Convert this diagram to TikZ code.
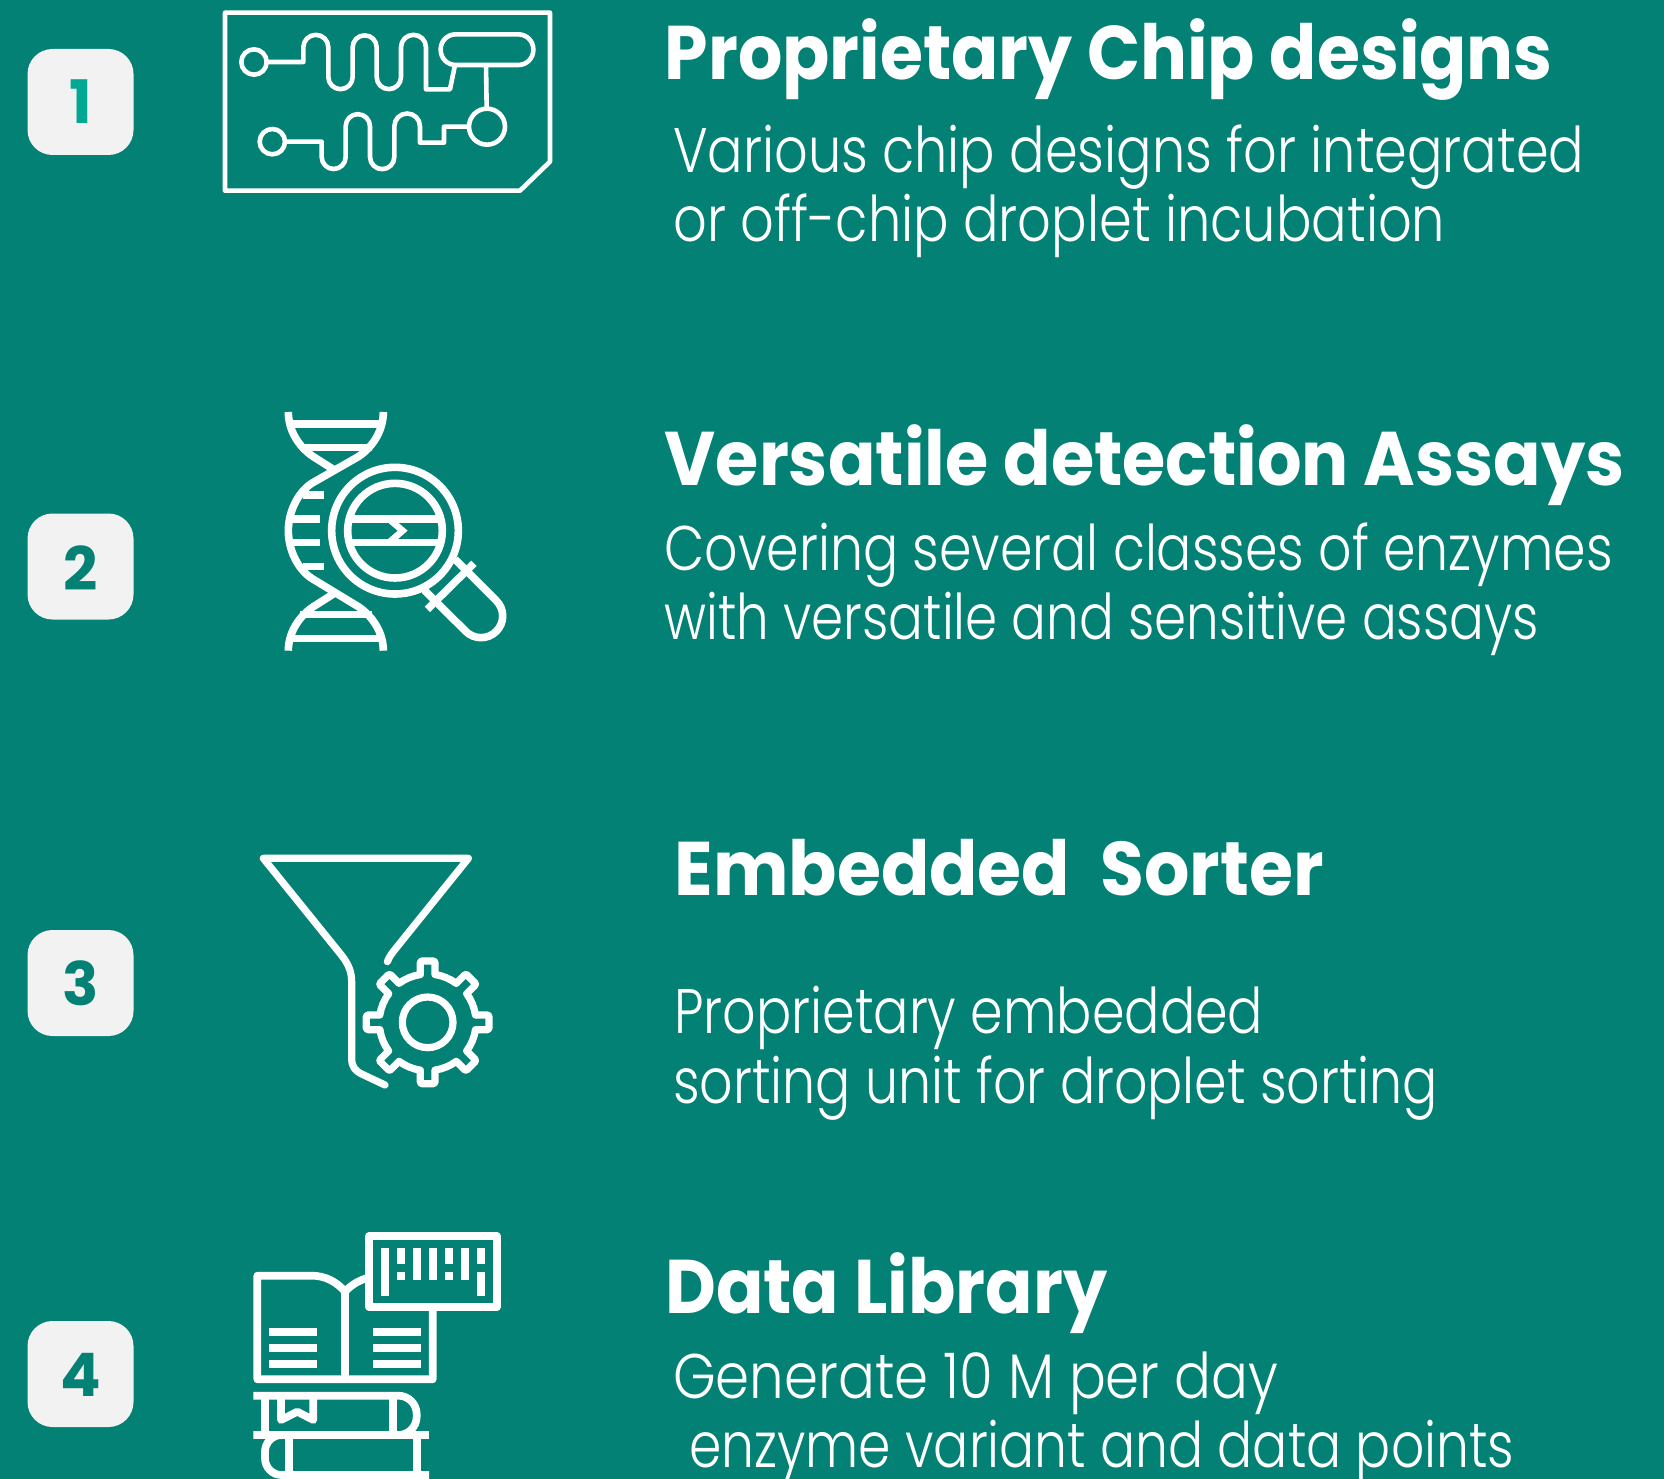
\documentclass[tikz,border=0pt]{standalone}
\usepackage{graphicx}
\usepackage{fontspec}
\setmainfont{Poppins}
\newfontfamily\headf{Poppins}[UprightFont=* Bold]
\newfontfamily\bodyf{Poppins}[UprightFont=* Light]
\definecolor{bgteal}{HTML}{038174}
\definecolor{badgegrey}{HTML}{F2F2F2}
\definecolor{numteal}{HTML}{03A892}
\newcommand\fitline[2]{\resizebox{#1pt}{\height}{#2}}
\newcommand\headtxt[2]{\fitline{#1}{\fontsize{76}{80}\headf #2}}
\newcommand\bodytxt[2]{\fitline{#1}{\fontsize{63}{70}\bodyf #2}}
\tikzset{
  badge/.style={fill=badgegrey,rounded corners=25pt,minimum width=106pt,minimum height=106pt,inner sep=0pt},
  badgenum/.style={inner sep=0pt,font=\fontsize{60}{60}\headf},
  line/.style={anchor=base west,inner sep=0pt,text=white},
  ic/.style={draw=white,line width=#1,fill=none},
  ic/.default=4.5pt,
}
\begin{document}
\begin{tikzpicture}[x=1pt,y=1pt,yscale=-1]
\clip (0,0) rectangle (1664,1479);
\fill[bgteal] (0,0) rectangle (1664,1479);

% badges
\node[badge] (b1) at (80.5,102) {};
\node[badge] (b2) at (80.5,566.5) {};
\node[badge] (b3) at (80.5,983) {};
\node[badge] (b4) at (80.5,1374) {};
\node[badgenum,text=numteal] (n1) at (80.5,102) {1};
\node[badgenum,text=bgteal] (n2) at (80.5,568.5) {2};
\node[badgenum,text=bgteal] (n3) at (80.5,983) {3};
\node[badgenum,text=bgteal] (n4) at (80.5,1375) {4};

% text
\node[line] (h1) at (664.5,80) {\headtxt{888}{Proprietary Chip designs}};
\node[line] (t1a) at (673,173) {\bodytxt{911}{Various chip designs for integrated}};
\node[line] (t1b) at (673,242) {\bodytxt{772}{or off-chip droplet incubation}};
\node[line] (h2) at (664.5,485) {\headtxt{960}{Versatile detection Assays}};
\node[line] (t2a) at (664.5,570) {\bodytxt{948}{Covering several classes of enzymes}};
\node[line] (t2b) at (664.5,639) {\bodytxt{874}{with versatile and sensitive assays}};
\node[line] (h3) at (674.5,895.5) {\headtxt{649}{Embedded\ \ Sorter}};
\node[line] (t3a) at (674,1033) {\bodytxt{589}{Proprietary embedded}};
\node[line] (t3b) at (673,1103) {\bodytxt{765}{sorting unit for droplet sorting}};
\node[line] (h4) at (665,1313) {\headtxt{442}{Data Library}};
\node[line] (t4a) at (673,1398) {\bodytxt{605}{Generate 10 M per day}};
\node[line] (t4b) at (689,1467) {\bodytxt{825}{enzyme variant and data points}};

% icon 1: chip
\begin{scope}[shift={(200,0)},scale=1/3,ic=4.6pt,line join=round]
\draw (75,38) -- (1050,38) -- (1050,485) -- (960,572) -- (75,572) -- cycle;
\draw (162,186) circle (38);
\draw (200,186) -- (310,186) -- (310,142) arc (180:360:37.5) -- (385,231) arc (180:0:36.5)
  -- (458,142) arc (180:360:36) -- (530,231) arc (180:0:36.5)
  -- (603,142) arc (180:360:37.5) -- (678,268) -- (750,268) -- (765,195);
\draw[rounded corners=15pt] (722,103) rectangle (1000,195);
\draw (858,195) -- (860,322);
\draw (861,380) circle (54);
\draw (217,425) circle (38);
\draw (255,425) -- (365,425) -- (365,471) arc (180:0:36) -- (437,379) arc (180:360:36.5)
  -- (510,471) arc (180:0:36.5) -- (583,379) arc (180:360:38.5) -- (660,428) -- (732,428) -- (732,380) -- (807,380);
\end{scope}

% icon 2: DNA and magnifier
\begin{scope}[shift={(270,400)},scale=1/3,ic=7.6pt]
\draw (55,36) .. controls (55,90) and (85,140) .. (130,170) -- (190,208);
\draw (340,36) .. controls (340,90) and (310,140) .. (265,170)
  -- (125,250) .. controls (80,280) and (55,340) .. (55,392)
  .. controls (55,445) and (80,505) .. (125,535) -- (265,620)
  .. controls (310,650) and (340,700) .. (340,752);
\draw (55,752) .. controls (55,700) and (85,650) .. (130,620) -- (190,582);
\foreach \yy/\xa/\xb in {72/60/335,143/90/305,285/98/162,357/60/150,428/60/150,500/98/162,643/90/305,715/60/335}
  \draw (\xa,\yy) -- (\xb,\yy);
\draw (375,392) circle (190);
\draw (375,392) circle (142);
\draw (237,357) -- (513,357);
\draw (237,428) -- (513,428);
\draw[line width=6.5pt,line join=miter] (360,360) -- (398,392) -- (360,425);
\draw (555,478) -- (679,602) arc (-45:135:65) -- (463,570);
\draw (612,490) -- (472,628);
\end{scope}

% icon 3: funnel and gear
\begin{scope}[shift={(250,840)},scale=1/3,ic=7.2pt,line join=round,line cap=round]
\draw (412,365) .. controls (420,345) and (430,335) .. (440,322) -- (655,55) -- (40,55) -- (270,340)
  .. controls (295,370) and (305,395) .. (305,425) -- (305,655)
  .. controls (305,680) and (315,692) .. (335,702) -- (405,735);
\draw (533,547) circle (76);
\foreach \aa in {0,45,...,315}{
  \begin{scope}[shift={(533,547)},rotate=\aa]
  \draw (143.5,-22) -- (180,-22) arc (-90:0:4) -- (184,18) arc (0:90:4) -- (143.5,22) arc (8.8:36.2:145);
  \end{scope}
}
\end{scope}

% icon 4: books and barcode
\begin{scope}[shift={(240,1220)},scale=1/3,ic=7.7pt,line join=round]
\draw (388,48) rectangle (770,262);
\draw (578,262) -- (578,478) -- (52,478) -- (52,167) -- (215,167)
  .. controls (255,167) and (290,185) .. (315,215) .. controls (333,195) and (358,180) .. (388,172);
\draw (315,215) -- (315,478);
\foreach \yy in {335,383,431}{
  \draw (87,\yy) -- (231,\yy);
  \draw (399,\yy) -- (543,\yy);
}
\foreach \xx/\ya/\yb in {435/84/228,483/84/132,483/156/180,531/84/180,579/84/180,627/84/132,627/156/180,675/84/180,723/84/132,723/156/228}
  \draw (\xx,\ya) -- (\xx,\yb);
\draw (40,527) -- (475,527) arc (-90:0:55) -- (530,590) arc (0:90:55) -- (40,645);
\draw (475,645) -- (567,645);
\draw (75,527) -- (75,645);
\draw (459,527) -- (459,645);
\draw (123,527) -- (123,600) -- (172,575) -- (220,600) -- (220,527);
\draw (135,645) -- (125,645) arc (270:180:50) -- (75,715) arc (180:90:50) -- (567,765);
\draw (147,645) -- (147,765);
\draw (530,645) -- (530,765);
\end{scope}
\end{tikzpicture}
\end{document}
